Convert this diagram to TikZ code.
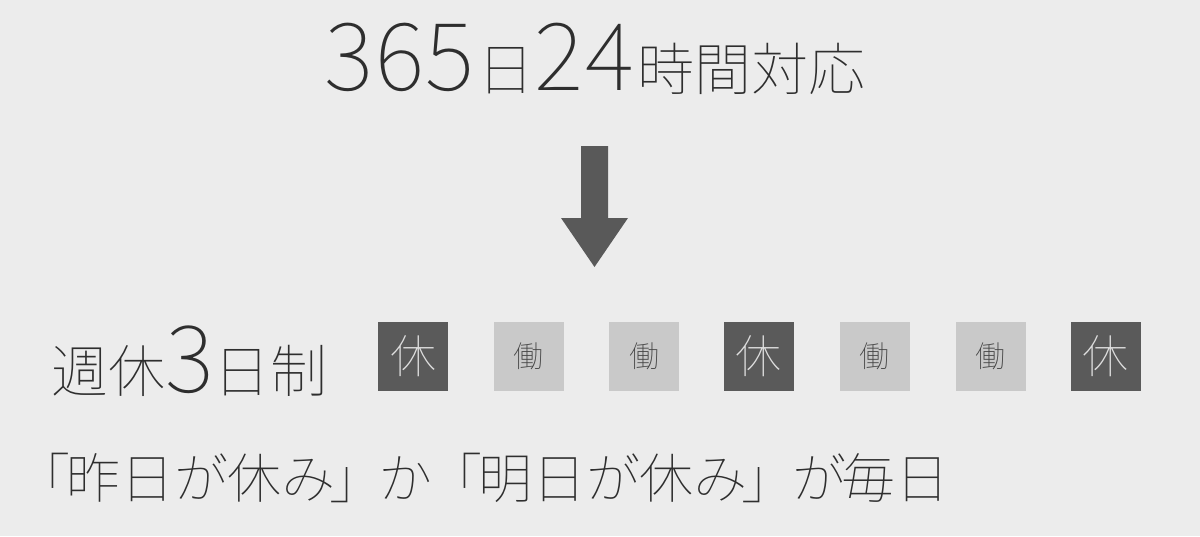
\documentclass[tikz,border=0pt]{standalone}
\usepackage{fontspec}
\IfFontExistsTF{Noto Sans CJK JP Thin}{%
  \newfontfamily\jp{Noto Sans CJK JP Thin}%
  \newfontfamily\jpp{Noto Sans CJK JP Thin}[RawFeature=+palt]%
}{%
  \IfFontExistsTF{Noto Sans CJK JP Light}{%
    \newfontfamily\jp{Noto Sans CJK JP Light}%
    \newfontfamily\jpp{Noto Sans CJK JP Light}[RawFeature=+palt]%
  }{%
    \newfontfamily\jp{Noto Sans CJK JP}%
    \newfontfamily\jpp{Noto Sans CJK JP}[RawFeature=+palt]%
  }%
}
\definecolor{bg}{HTML}{ECECEC}
\definecolor{ink}{HTML}{2E2E2E}
\definecolor{restfill}{HTML}{5A5A5A}
\definecolor{workfill}{HTML}{C9C9C9}
\definecolor{resttext}{HTML}{DEDEDE}
\definecolor{worktext}{HTML}{444444}
\definecolor{arrowcol}{HTML}{595959}
\newcommand{\fs}[1]{\fontsize{#1}{#1}\selectfont}
\tikzset{
  daybox/.style={minimum width=70pt, minimum height=69pt, inner sep=0pt},
  restday/.style={daybox, fill=restfill, text=resttext, font=\jp\fs{46}},
  workday/.style={daybox, fill=workfill, text=worktext, font=\jp\fs{30}},
  txt/.style={inner sep=0pt, text=ink},
  notetxt/.style={txt, anchor=base, font=\jpp\fs{54}}
}
\begin{document}
\begin{tikzpicture}[x=1pt,y=-1pt]
\fill[bg] (0,0) rectangle (1200,536);
\useasboundingbox (0,0) rectangle (1200,536);
\node[txt, anchor=base, font=\jp] (title) at (595,90)
  {\fs{94}3\kern2pt 6\kern2pt 5\kern3pt\fs{57}日\fs{94}2\kern2pt 4\kern3pt\fs{57}時間対応};
\fill[arrowcol] (581,146) -- (608,146) -- (608,218) -- (628,218)
  -- (594.5,267) -- (561,218) -- (581,218) -- cycle;
\node[txt, anchor=base west, font=\jp] (label) at (51,392)
  {\fs{57}週休\fs{93}3\fs{57}日制};
\node[restday] (d1) at (413,356.5) {休};
\node[workday] (d2) at (528.5,356.5) {働};
\node[workday] (d3) at (644,356.5) {働};
\node[restday] (d4) at (758.5,356.5) {休};
\node[workday] (d5) at (874.5,356.5) {働};
\node[workday] (d6) at (990.5,356.5) {働};
\node[restday] (d7) at (1105.5,356.5) {休};
\node[notetxt] (note1) at (200,498) {「\kern-3pt 昨日が休み\kern-4pt 」};
\node[notetxt] (note2) at (405.5,498) {か};
\node[notetxt] (note3) at (612,498) {「\kern-3pt 明日が休み\kern-4pt 」};
\node[notetxt, anchor=base east] (note4) at (950,498) {が\kern-4pt 毎日};
\end{tikzpicture}
\end{document}
